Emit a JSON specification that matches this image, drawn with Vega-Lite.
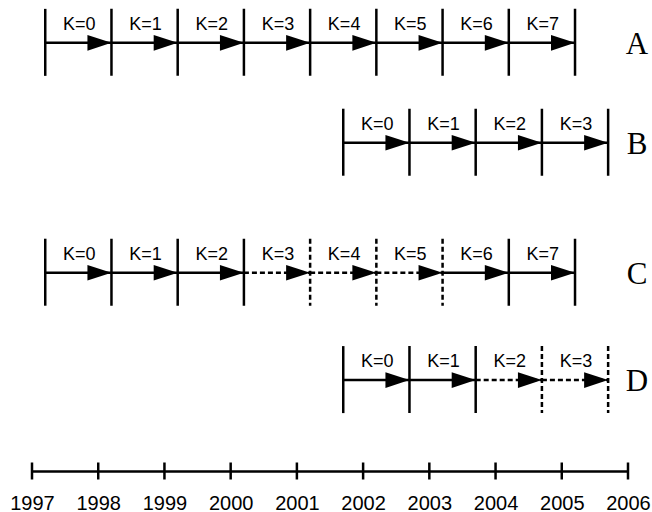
{
  "$schema": "https://vega.github.io/schema/vega-lite/v6.json",
  "width": 596,
  "height": 471,
  "autosize": {"type": "none"},
  "padding": {"left": 32, "right": 24, "top": 0, "bottom": 41},
  "background": "white",
  "config": {"view": {"stroke": null}},
  "datasets": {
    "segments": [
      {"row": "A", "level": 0.91, "label": "K=0", "k": 0, "start": 1997.2, "end": 1998.2, "line": "solid"},
      {"row": "A", "level": 0.91, "label": "K=1", "k": 1, "start": 1998.2, "end": 1999.2, "line": "solid"},
      {"row": "A", "level": 0.91, "label": "K=2", "k": 2, "start": 1999.2, "end": 2000.2, "line": "solid"},
      {"row": "A", "level": 0.91, "label": "K=3", "k": 3, "start": 2000.2, "end": 2001.2, "line": "solid"},
      {"row": "A", "level": 0.91, "label": "K=4", "k": 4, "start": 2001.2, "end": 2002.2, "line": "solid"},
      {"row": "A", "level": 0.91, "label": "K=5", "k": 5, "start": 2002.2, "end": 2003.2, "line": "solid"},
      {"row": "A", "level": 0.91, "label": "K=6", "k": 6, "start": 2003.2, "end": 2004.2, "line": "solid"},
      {"row": "A", "level": 0.91, "label": "K=7", "k": 7, "start": 2004.2, "end": 2005.2, "line": "solid"},
      {"row": "B", "level": 3.03, "label": "K=0", "k": 0, "start": 2001.7, "end": 2002.7, "line": "solid"},
      {"row": "B", "level": 3.03, "label": "K=1", "k": 1, "start": 2002.7, "end": 2003.7, "line": "solid"},
      {"row": "B", "level": 3.03, "label": "K=2", "k": 2, "start": 2003.7, "end": 2004.7, "line": "solid"},
      {"row": "B", "level": 3.03, "label": "K=3", "k": 3, "start": 2004.7, "end": 2005.7, "line": "solid"},
      {"row": "C", "level": 5.79, "label": "K=0", "k": 0, "start": 1997.2, "end": 1998.2, "line": "solid"},
      {"row": "C", "level": 5.79, "label": "K=1", "k": 1, "start": 1998.2, "end": 1999.2, "line": "solid"},
      {"row": "C", "level": 5.79, "label": "K=2", "k": 2, "start": 1999.2, "end": 2000.2, "line": "solid"},
      {"row": "C", "level": 5.79, "label": "K=3", "k": 3, "start": 2000.2, "end": 2001.2, "line": "dashed"},
      {"row": "C", "level": 5.79, "label": "K=4", "k": 4, "start": 2001.2, "end": 2002.2, "line": "dashed"},
      {"row": "C", "level": 5.79, "label": "K=5", "k": 5, "start": 2002.2, "end": 2003.2, "line": "dashed"},
      {"row": "C", "level": 5.79, "label": "K=6", "k": 6, "start": 2003.2, "end": 2004.2, "line": "solid"},
      {"row": "C", "level": 5.79, "label": "K=7", "k": 7, "start": 2004.2, "end": 2005.2, "line": "solid"},
      {"row": "D", "level": 8.07, "label": "K=0", "k": 0, "start": 2001.7, "end": 2002.7, "line": "solid"},
      {"row": "D", "level": 8.07, "label": "K=1", "k": 1, "start": 2002.7, "end": 2003.7, "line": "solid"},
      {"row": "D", "level": 8.07, "label": "K=2", "k": 2, "start": 2003.7, "end": 2004.7, "line": "dashed"},
      {"row": "D", "level": 8.07, "label": "K=3", "k": 3, "start": 2004.7, "end": 2005.7, "line": "dashed"}
    ],
    "rows": [
      {"row": "A", "level": 0.91},
      {"row": "B", "level": 3.03},
      {"row": "C", "level": 5.79},
      {"row": "D", "level": 8.07}
    ],
    "years": [
      {"year": 1997}, {"year": 1998}, {"year": 1999}, {"year": 2000}, {"year": 2001},
      {"year": 2002}, {"year": 2003}, {"year": 2004}, {"year": 2005}, {"year": 2006}
    ]
  },
  "layer": [
    {
      "data": {"name": "segments"},
      "mark": {"type": "rule", "strokeWidth": 2.5, "color": "black"},
      "encoding": {
        "x": {
          "field": "start", "type": "quantitative",
          "scale": {"domain": [1997, 2006], "nice": false, "zero": false},
          "axis": {
            "values": [1997, 1998, 1999, 2000, 2001, 2002, 2003, 2004, 2005, 2006],
            "format": "d", "title": null, "grid": false,
            "domainColor": "black", "domainWidth": 2.5,
            "ticks": false, "labelPadding": 22,
            "labelFont": "Liberation Sans", "labelFontSize": 20, "labelColor": "black",
            "labelFlush": false, "labelOverlap": false
          }
        },
        "x2": {"field": "end"},
        "y": {
          "field": "level", "type": "quantitative",
          "scale": {"domain": [0, 10], "reverse": true, "nice": false, "zero": false},
          "axis": null
        },
        "strokeDash": {
          "field": "line", "type": "nominal",
          "scale": {"domain": ["solid", "dashed"], "range": [[1, 0], [5, 3]]},
          "legend": null
        }
      }
    },
    {
      "data": {"name": "segments"},
      "mark": {"type": "rule", "strokeWidth": 2.5, "color": "black", "yOffset": -34, "y2Offset": 33},
      "encoding": {
        "x": {"field": "end", "type": "quantitative"},
        "y": {"field": "level", "type": "quantitative"},
        "y2": {"field": "level"},
        "strokeDash": {"field": "line", "type": "nominal", "legend": null}
      }
    },
    {
      "data": {"name": "segments"},
      "transform": [{"filter": "datum.k == 0"}],
      "mark": {"type": "rule", "strokeWidth": 2.5, "color": "black", "yOffset": -34, "y2Offset": 33},
      "encoding": {
        "x": {"field": "start", "type": "quantitative"},
        "y": {"field": "level", "type": "quantitative"},
        "y2": {"field": "level"}
      }
    },
    {
      "data": {"name": "segments"},
      "mark": {
        "type": "point", "filled": true, "color": "black", "opacity": 1,
        "shape": "M0,0L-2,-0.65L-2,0.65Z", "size": 576, "strokeWidth": 0
      },
      "encoding": {
        "x": {"field": "end", "type": "quantitative"},
        "y": {"field": "level", "type": "quantitative"}
      }
    },
    {
      "data": {"name": "segments"},
      "mark": {
        "type": "text", "align": "center", "baseline": "middle", "dx": 34, "dy": -18,
        "font": "Liberation Sans", "fontSize": 18, "color": "black"
      },
      "encoding": {
        "x": {"field": "start", "type": "quantitative"},
        "y": {"field": "level", "type": "quantitative"},
        "text": {"field": "label", "type": "nominal"}
      }
    },
    {
      "data": {"name": "rows"},
      "mark": {
        "type": "text", "align": "center", "baseline": "middle", "dx": 9, "dy": 2,
        "font": "Liberation Serif", "fontSize": 31, "color": "black"
      },
      "encoding": {
        "x": {"datum": 2006, "type": "quantitative"},
        "y": {"field": "level", "type": "quantitative"},
        "text": {"field": "row", "type": "nominal"}
      }
    },
    {
      "data": {"name": "years"},
      "mark": {"type": "rule", "strokeWidth": 2.5, "color": "black", "yOffset": -8.5, "y2Offset": 8.5},
      "encoding": {
        "x": {"field": "year", "type": "quantitative"},
        "y": {"datum": 10, "type": "quantitative"},
        "y2": {"datum": 10}
      }
    }
  ]
}
